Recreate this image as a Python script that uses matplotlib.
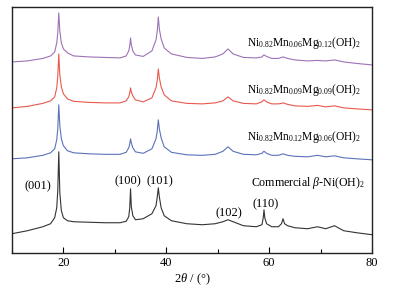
import matplotlib
matplotlib.use("Agg")
import matplotlib.pyplot as plt
from matplotlib.ticker import MultipleLocator
import matplotlib._mathtext as _mt

_mt.SHRINK_FACTOR = 0.66

plt.rcParams['font.family'] = ['Liberation Serif', 'DejaVu Serif']
plt.rcParams['mathtext.fontset'] = 'custom'
plt.rcParams['mathtext.rm'] = 'Liberation Serif'
plt.rcParams['mathtext.it'] = 'Liberation Serif:italic'
plt.rcParams['mathtext.bf'] = 'Liberation Serif:bold'

# 2theta sampling points (degrees)
two_theta = [10, 13, 16, 17.5, 18.3, 18.7, 18.9, 19.1, 19.3, 19.6, 20.0, 20.8, 22, 25, 28, 31,
             32.2, 32.7, 32.9, 33.05, 33.2, 33.5, 34.0, 35.5, 37.2, 38.0, 38.25, 38.45, 38.65,
             39.0, 39.6, 41, 44, 47, 49.5, 51.0, 52.0, 53.0, 55, 57.5, 58.6, 58.85, 59.0,
             59.15, 59.5, 60.5, 61.8, 62.4, 62.7, 63.0, 63.6, 65, 67.5, 69.4, 71, 72.7,
             74.5, 77, 80]

# intensities (a.u., stacked)
commercial = [19, 22, 26, 29, 35, 45, 62, 101, 60, 42, 35, 32, 31, 30.5, 30, 30,
              31.5, 36, 45, 64, 46, 37, 33, 34, 39, 47, 56, 65, 56,
              45, 37, 32, 29, 28, 29, 31, 33, 31, 27, 26, 28, 35, 43,
              35, 29, 26, 26, 29, 34, 29, 27, 25, 24, 26, 24, 27,
              22, 20, 18]
mg006 = [94, 95, 97.5, 100, 104, 113, 124, 148, 127, 114, 107, 102, 100, 99, 98.5, 98.5,
         100.5, 105, 109, 114, 110, 105, 101, 99.5, 104, 114, 122, 133, 124,
         115, 106, 100.5, 98, 97.5, 98.5, 101.5, 106, 101.5, 98.5, 98, 99.5, 101, 101.5,
         101, 99.5, 97.5, 97.5, 98.5, 99, 98.5, 97.5, 96.5, 96, 97.5, 96, 97,
         95, 94, 93]
mg009 = [145, 146.5, 149.5, 152, 156, 165, 176, 199, 178, 166, 159, 154, 151.5, 150.5, 150, 150,
         152, 156, 160, 165, 161, 157, 153, 151, 155, 165, 173, 184, 175,
         166, 158, 152, 149.5, 149, 150, 152, 156, 152, 149.5, 149, 151, 152.5, 153,
         152.5, 151, 149, 149, 149.5, 150, 149.5, 148.5, 147, 146.5, 147.5, 146, 147,
         145, 144, 143]
mg012 = [191, 192, 194.5, 197, 201, 210, 220, 240, 222, 210, 204, 200, 197, 196, 195.5, 195,
         197, 202, 207, 215, 208, 202, 198, 196.5, 202, 213, 222, 236, 224,
         214, 205, 199, 195.5, 194.5, 196, 199, 204, 199, 195.5, 195, 196, 197.5, 198,
         197.5, 196.5, 194.5, 194.5, 195.5, 196, 195.5, 194.5, 193, 192, 192.5, 192, 193,
         191, 189.5, 188]

series_labels = [r'$\mathrm{Ni_{0.82}Mn_{0.06}Mg_{0.12}(OH)_2}$',
                 r'$\mathrm{Ni_{0.82}Mn_{0.09}Mg_{0.09}(OH)_2}$',
                 r'$\mathrm{Ni_{0.82}Mn_{0.12}Mg_{0.06}(OH)_2}$',
                 r'Commercial $\beta$-Ni(OH)$_2$']
peak_labels = ['(001)', '(100)', '(101)', '(102)', '(110)']
peak_pos = [15.0, 32.6, 38.8, 52.2, 59.3]
peak_lab_y = [67, 72, 72, 39, 48]
xticks = [20, 40, 60, 80]

fig = plt.figure(figsize=(3.93, 2.90), dpi=100)
ax = fig.add_axes([0.0305, 0.1286, 0.9161, 0.8473])

colors = ['#9d72b8', '#e8594f', '#5b72b8', '#333333']
data = [mg012, mg009, mg006, commercial]
for y, c in zip(data, colors):
    ax.plot(two_theta, y, color=c, lw=0.8)

label_y = [210, 163, 116, 70]
label_x = [78.0, 78.0, 78.0, 78.6]
label_fs = [8.3, 8.3, 8.3, 8.6]
for lab, lx, ly, fs in zip(series_labels, label_x, label_y, label_fs):
    ax.text(lx, ly, lab, ha='right', va='center', fontsize=fs)

for lab, px, py in zip(peak_labels, peak_pos, peak_lab_y):
    ax.text(px, py, lab, ha='center', va='center', fontsize=9)

ax.set_xlim(10, 80)
ax.set_ylim(0, 246)
ax.set_xticks(xticks)
ax.xaxis.set_minor_locator(MultipleLocator(10))
ax.set_yticks([])
ax.tick_params(axis='x', which='major', direction='in', length=4, width=0.8,
               labelsize=9, pad=3)
ax.tick_params(axis='x', which='minor', direction='in', length=3, width=0.8)
for s in ax.spines.values():
    s.set_linewidth(1.0)
    s.set_color('#222222')
ax.set_xlabel(r'$\mathit{2\theta}$ / (°)', fontsize=9, labelpad=2)

fig.savefig('out.png', dpi=100)
